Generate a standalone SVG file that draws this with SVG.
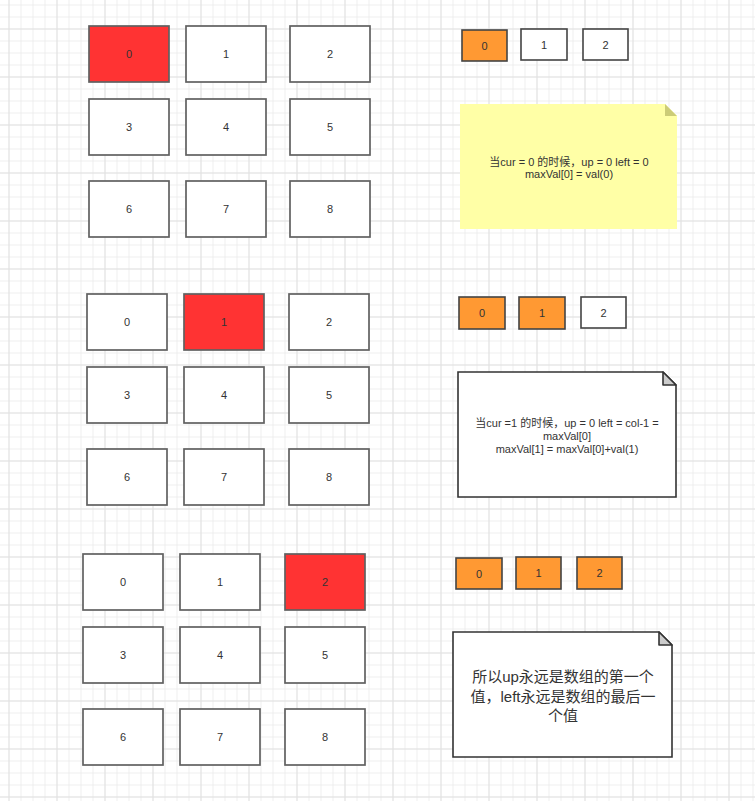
<svg xmlns="http://www.w3.org/2000/svg" width="755" height="801" viewBox="0 0 755 801">
<style>
.cell{fill:#ffffff;stroke:#616161;stroke-width:1.7}
.red{fill:#ff3333}
.sm{fill:#ffffff;stroke:#444444;stroke-width:1.6}
.org{fill:#ff9933}
.lbl{font-family:"Liberation Sans","Noto Sans CJK SC",sans-serif;font-size:11px;fill:#333333;text-anchor:middle}
.note{fill:#ffffff;stroke:#333333;stroke-width:1.6}
.fold{fill:#cccccc;stroke:#333333;stroke-width:1.6;stroke-linejoin:round}
.nt{font-family:"Liberation Sans","Noto Sans CJK SC",sans-serif;font-size:11px;fill:#333333;text-anchor:middle}
.nt2{font-family:"Liberation Sans","Noto Sans CJK SC",sans-serif;font-size:15px;fill:#333333;text-anchor:middle}
</style>
<defs>
<pattern id="minor" width="12" height="12" patternUnits="userSpaceOnUse" x="8.5" y="4.5">
<path d="M0 0.5H12M0.5 0V12" fill="none" stroke="#eeeeee" stroke-width="1"/>
</pattern>
<pattern id="major" width="48" height="48" patternUnits="userSpaceOnUse" x="8.5" y="28.5">
<path d="M0 0.5H48M0.5 0V48" fill="none" stroke="#e2e2e2" stroke-width="1"/>
</pattern>
</defs>
<rect width="755" height="801" fill="#ffffff"/>
<rect width="755" height="801" fill="url(#minor)"/>
<rect width="755" height="801" fill="url(#major)"/>

<g id="grid-top">
<g id="t0"><rect class="cell red" x="89" y="26" width="80" height="56"/><text class="lbl" x="129" y="58">0</text></g>
<g id="t1"><rect class="cell" x="186" y="26" width="80" height="56"/><text class="lbl" x="226" y="58">1</text></g>
<g id="t2"><rect class="cell" x="290" y="26" width="80" height="56"/><text class="lbl" x="330" y="58">2</text></g>
<g id="t3"><rect class="cell" x="89" y="99" width="80" height="56"/><text class="lbl" x="129" y="131">3</text></g>
<g id="t4"><rect class="cell" x="186" y="99" width="80" height="56"/><text class="lbl" x="226" y="131">4</text></g>
<g id="t5"><rect class="cell" x="290" y="99" width="80" height="56"/><text class="lbl" x="330" y="131">5</text></g>
<g id="t6"><rect class="cell" x="89" y="181" width="80" height="56"/><text class="lbl" x="129" y="213">6</text></g>
<g id="t7"><rect class="cell" x="186" y="181" width="80" height="56"/><text class="lbl" x="226" y="213">7</text></g>
<g id="t8"><rect class="cell" x="290" y="181" width="80" height="56"/><text class="lbl" x="330" y="213">8</text></g>
</g>

<g id="grid-mid">
<g id="m0"><rect class="cell" x="87" y="294" width="80" height="56"/><text class="lbl" x="127" y="326">0</text></g>
<g id="m1"><rect class="cell red" x="184" y="294" width="80" height="56"/><text class="lbl" x="224" y="326">1</text></g>
<g id="m2"><rect class="cell" x="289" y="294" width="80" height="56"/><text class="lbl" x="329" y="326">2</text></g>
<g id="m3"><rect class="cell" x="87" y="367" width="80" height="56"/><text class="lbl" x="127" y="399">3</text></g>
<g id="m4"><rect class="cell" x="184" y="367" width="80" height="56"/><text class="lbl" x="224" y="399">4</text></g>
<g id="m5"><rect class="cell" x="289" y="367" width="80" height="56"/><text class="lbl" x="329" y="399">5</text></g>
<g id="m6"><rect class="cell" x="87" y="449" width="80" height="56"/><text class="lbl" x="127" y="481">6</text></g>
<g id="m7"><rect class="cell" x="184" y="449" width="80" height="56"/><text class="lbl" x="224" y="481">7</text></g>
<g id="m8"><rect class="cell" x="289" y="449" width="80" height="56"/><text class="lbl" x="329" y="481">8</text></g>
</g>

<g id="grid-bot">
<g id="b0"><rect class="cell" x="83" y="554" width="80" height="56"/><text class="lbl" x="123" y="586">0</text></g>
<g id="b1"><rect class="cell" x="180" y="554" width="80" height="56"/><text class="lbl" x="220" y="586">1</text></g>
<g id="b2"><rect class="cell red" x="285" y="554" width="80" height="56"/><text class="lbl" x="325" y="586">2</text></g>
<g id="b3"><rect class="cell" x="83" y="627" width="80" height="56"/><text class="lbl" x="123" y="659">3</text></g>
<g id="b4"><rect class="cell" x="180" y="627" width="80" height="56"/><text class="lbl" x="220" y="659">4</text></g>
<g id="b5"><rect class="cell" x="285" y="627" width="80" height="56"/><text class="lbl" x="325" y="659">5</text></g>
<g id="b6"><rect class="cell" x="83" y="709" width="80" height="56"/><text class="lbl" x="123" y="741">6</text></g>
<g id="b7"><rect class="cell" x="180" y="709" width="80" height="56"/><text class="lbl" x="220" y="741">7</text></g>
<g id="b8"><rect class="cell" x="285" y="709" width="80" height="56"/><text class="lbl" x="325" y="741">8</text></g>
</g>

<g id="arr-top">
<g id="at0"><rect class="sm org" x="462" y="30" width="45" height="31"/><text class="lbl" x="484.5" y="49.5">0</text></g>
<g id="at1"><rect class="sm" x="521" y="29" width="46" height="31"/><text class="lbl" x="544" y="48.5">1</text></g>
<g id="at2"><rect class="sm" x="583" y="29" width="45" height="31"/><text class="lbl" x="605.5" y="48.5">2</text></g>
</g>
<g id="arr-mid">
<g id="am0"><rect class="sm org" x="459" y="297" width="46" height="32"/><text class="lbl" x="482" y="317">0</text></g>
<g id="am1"><rect class="sm org" x="519" y="297" width="46" height="32"/><text class="lbl" x="542" y="317">1</text></g>
<g id="am2"><rect class="sm" x="581" y="297" width="45" height="31"/><text class="lbl" x="603.5" y="316.5">2</text></g>
</g>
<g id="arr-bot">
<g id="ab0"><rect class="sm org" x="456" y="558" width="46" height="31"/><text class="lbl" x="479" y="577.5">0</text></g>
<g id="ab1"><rect class="sm org" x="516" y="557" width="45" height="32"/><text class="lbl" x="538.5" y="577">1</text></g>
<g id="ab2"><rect class="sm org" x="577" y="557" width="45" height="32"/><text class="lbl" x="599.5" y="577">2</text></g>
</g>

<g id="note1">
<path d="M460 104H665L677 116V229H460Z" fill="#ffffa6"/>
<path d="M665 104V116H677Z" fill="#cccc77"/>
<text class="nt" x="569" y="165.5">当cur = 0 的时候，up = 0 left = 0</text>
<text class="nt" x="569" y="178">maxVal[0] = val(0)</text>
</g>

<g id="note2">
<path class="note" d="M458 372H663L676 385V497H458Z"/>
<path class="fold" d="M663 372V385H676Z"/>
<text class="nt" x="567" y="426.5">当cur =1 的时候，up = 0 left = col-1 =</text>
<text class="nt" x="567" y="439.5">maxVal[0]</text>
<text class="nt" x="567" y="452.5">maxVal[1] = maxVal[0]+val(1)</text>
</g>

<g id="note3">
<path class="note" d="M453 632H659L672 645V757H453Z"/>
<path class="fold" d="M659 632V645H672Z"/>
<text class="nt2" x="563" y="681.5">所以up永远是数组的第一个</text>
<text class="nt2" x="563" y="702">值，left永远是数组的最后一</text>
<text class="nt2" x="563" y="721">个值</text>
</g>
</svg>
